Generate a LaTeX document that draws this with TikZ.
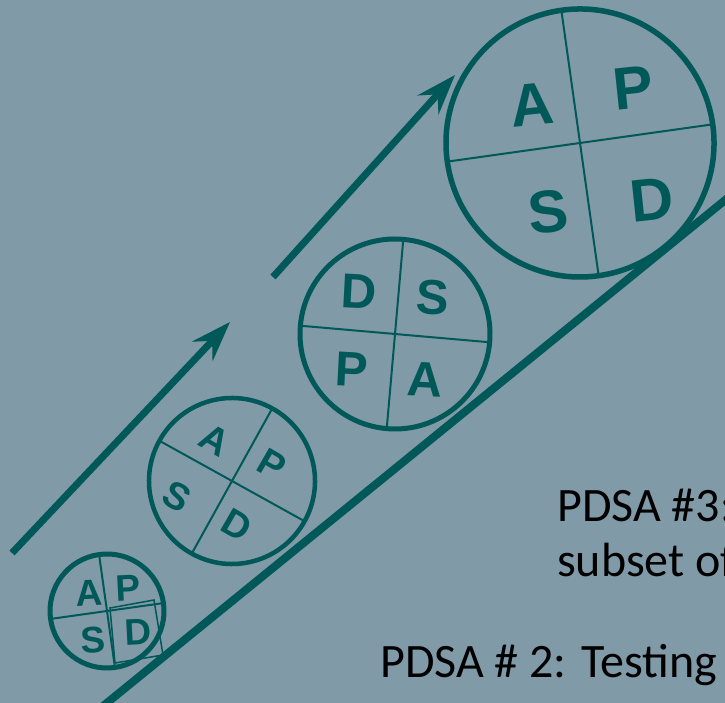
\documentclass[tikz,border=0pt]{standalone}
\usepackage{fontspec}
\newfontfamily\letfont{Liberation Sans}
\newfontfamily\calfont{Carlito}
\usetikzlibrary{arrows.meta}
\definecolor{bgblue}{RGB}{128,154,168}
\definecolor{tealdark}{RGB}{0,88,88}
\begin{document}
\begin{tikzpicture}[x=1pt,y=1pt,
  ring/.style={circle, draw=tealdark, inner sep=0pt, outer sep=0pt},
  divider/.style={draw=tealdark, line width=2pt},
  lett/.style={text=tealdark, inner sep=0pt, font=\letfont\bfseries\fontsize{#1}{#1}\selectfont},
  flow/.style={draw=tealdark, line width=7pt, -{Stealth[length=40pt,width=28pt,inset=14pt]}},
  slope/.style={draw=tealdark, line width=8pt},
  caption/.style={anchor=base west, inner sep=0pt, text=black, font=\calfont\fontsize{48}{58}\selectfont}]
\useasboundingbox (0,0) rectangle (725,703);
\fill[bgblue] (0,0) rectangle (725,703);
\clip (0,0) rectangle (725,703);

% long slope line
\coordinate (ls) at (97,-8);
\coordinate (le) at (740,515);
\draw[slope] (ls) -- (le);

% arrows
\coordinate (a1s) at (12,150);
\coordinate (a1e) at (230,381);
\coordinate (a2s) at (273,426);
\coordinate (a2e) at (455,628);
\draw[flow] (a1s) -- (a1e);
\draw[flow] (a2s) -- (a2e);

% big circle
\node[ring, minimum size=268pt, line width=5.5pt, rotate=8] (c4) at (580,560) {};
\draw[divider] (c4.north) -- (c4.south);
\draw[divider] (c4.west) -- (c4.east);
\node[lett=60, rotate=6] (c4a) at (532,598) {A};
\node[lett=60, rotate=6] (c4p) at (633,615) {P};
\node[lett=60, rotate=6] (c4s) at (548,491) {S};
\node[lett=60, rotate=6] (c4d) at (652,503) {D};

% medium circle 2
\node[ring, minimum size=190pt, line width=5pt, rotate=-5] (c3) at (395,369) {};
\draw[divider] (c3.north) -- (c3.south);
\draw[divider] (c3.west) -- (c3.east);
\node[lett=49, rotate=-3] (c3d) at (359,411) {D};
\node[lett=49, rotate=-3] (c3s) at (433,405) {S};
\node[lett=49, rotate=-3] (c3p) at (352,333) {P};
\node[lett=49, rotate=-3] (c3a) at (425,323) {A};

% medium circle 1
\node[ring, minimum size=166pt, line width=4.5pt, rotate=-29] (c2) at (232,222) {};
\draw[divider] (c2.north) -- (c2.south);
\draw[divider] (c2.west) -- (c2.east);
\node[lett=38, rotate=-30] (c2a) at (215,263) {A};
\node[lett=38, rotate=-30] (c2p) at (272,238) {P};
\node[lett=38, rotate=-30] (c2s) at (177,206) {S};
\node[lett=38, rotate=-30] (c2d) at (237,178) {D};

% small circle
\node[ring, minimum size=114pt, line width=5pt, rotate=8] (c1) at (107,92) {};
\draw[divider] (c1.north) -- (c1.south);
\draw[divider] (c1.west) -- (c1.east);
\node[lett=37, rotate=3] (c1a) at (89,110) {A};
\node[lett=37, rotate=3] (c1p) at (128,115) {P};
\node[lett=37, rotate=3] (c1s) at (93,63) {S};
\node[lett=37, rotate=3] (c1d) at (138,71) {D};
\coordinate (q1) at (110,95);
\coordinate (q2) at (154,103);
\coordinate (q3) at (163,48);
\coordinate (q4) at (115,40);
\draw[tealdark, line width=1.5pt] (q1) -- (q2) -- (q3) -- (q4) -- cycle;

% captions
\node[caption] (t1) at (557,181) {PDSA \#3:};
\node[caption] (t2) at (557,126) {subset of};
\node[caption] (t3) at (380,25) {PDSA \# 2: Testing};
\end{tikzpicture}
\end{document}
